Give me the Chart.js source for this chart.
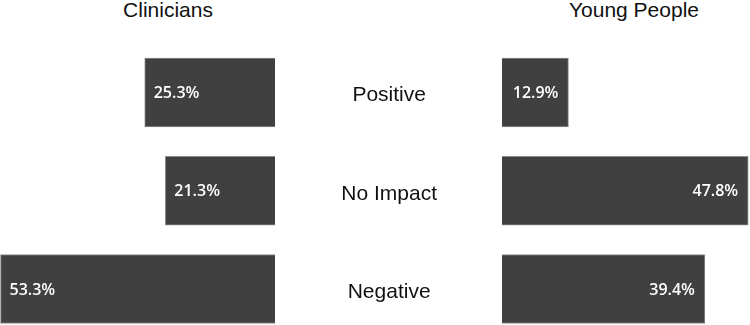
<!DOCTYPE html>
<html lang="en">
<head>
  <meta charset="UTF-8" />
  <title>Impact: Clinicians vs Young People</title>
  <style>
    html, body {
      margin: 0; padding: 0;
      background: #ffffff;
      width: 750px; height: 325px;
      overflow: hidden; position: relative;
      font-family: 'Liberation Sans', Arial, sans-serif;
    }
    .panel-title {
      position: absolute; top: -1px; width: 200px;
      text-align: center; font-size: 21px; line-height: 21px; color: #111;
    }
    #leftTitle  { left: 68px; }
    #rightTitle { left: 534px; }
    #leftBox  { position: absolute; left: 0;     top: 0; width: 275px; height: 325px; }
    #rightBox { position: absolute; left: 300px; top: 0; width: 477px; height: 325px; }
  </style>
  <script src="https://cdn.jsdelivr.net/npm/chart.js"></script>
</head>
<body>
  <div id="leftTitle" class="panel-title">Clinicians</div>
  <div id="rightTitle" class="panel-title">Young People</div>
  <div id="leftBox"><canvas id="leftChart"></canvas></div>
  <div id="rightBox"><canvas id="rightChart"></canvas></div>

  <script>
    // ─── Data ──────────────────────────────────────────────
    const categories   = ['Positive', 'No Impact', 'Negative'];
    const clinicians   = [25.3, 21.3, 53.3];
    const youngPeople  = [12.9, 47.8, 39.4];
    const AXIS_MAX     = 53.4;   // both panels share one scale

    const BAR_FILL   = '#404040';
    const BAR_BORDER = '#8a8a8a';

    // value label at the tip of each bar, inside it
    const tipLabels = {
      id: 'tipLabels',
      afterDatasetsDraw(chart) {
        const ctx = chart.ctx;
        const meta = chart.getDatasetMeta(0);
        const values = chart.data.datasets[0].data;
        ctx.save();
        ctx.font = '600 16px "Open Sans", sans-serif';
        ctx.fillStyle = '#ffffff';
        ctx.textBaseline = 'middle';
        meta.data.forEach((bar, i) => {
          const toLeft = bar.x < bar.base;
          ctx.textAlign = toLeft ? 'left' : 'right';
          ctx.fillText(values[i].toFixed(1) + '%', toLeft ? bar.x + 9 : bar.x - 10, bar.y + 1);
        });
        ctx.restore();
      }
    };

    function makeOptions(reverse, showCats) {
      return {
        indexAxis: 'y',
        responsive: true,
        maintainAspectRatio: false,
        animation: false,
        layout: { padding: { top: 92.5, bottom: 36, left: 0, right: 0 } },
        scales: {
          x: { display: false, min: 0, max: AXIS_MAX, reverse: reverse },
          y: {
            type: 'category',
            offset: false,
            display: showCats,
            grid: { display: false },
            border: { display: false },
            afterFit: s => {
              if (!showCats) return;
              s.width = 202;
              s.paddingTop = 0;     // tick padding is only meant sideways here
              s.paddingBottom = 0;
            },
            ticks: {
              color: '#111',
              crossAlign: 'center',
              padding: 57,
              labelOffset: 3,
              font: { family: "'Liberation Sans', Arial, sans-serif", size: 21 }
            }
          }
        },
        plugins: { legend: { display: false }, tooltip: { enabled: false } }
      };
    }

    function makeChart(id, values, reverse, showCats) {
      return new Chart(document.getElementById(id), {
        type: 'bar',
        data: {
          labels: categories,
          datasets: [{
            data: values,
            backgroundColor: BAR_FILL,
            borderColor: BAR_BORDER,
            borderWidth: 1,
            barThickness: 69,
            clip: false
          }]
        },
        options: makeOptions(reverse, showCats),
        plugins: [tipLabels]
      });
    }

    makeChart('leftChart', clinicians, true, false);
    makeChart('rightChart', youngPeople, false, true);
  </script>
</body>
</html>
